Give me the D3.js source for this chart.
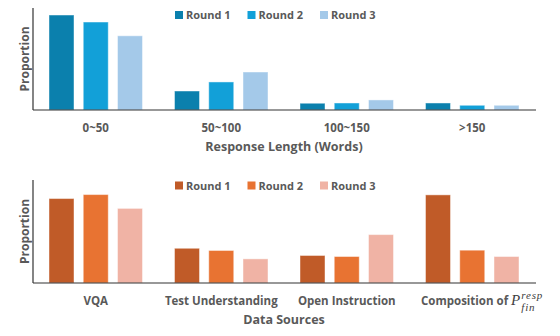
<!DOCTYPE html>
<html>
<head>
<meta charset="utf-8">
<script src="https://cdn.jsdelivr.net/npm/d3@7"></script>
<style>
  body { margin: 0; background: #fff; }
  text { font-family: "Open Sans", "Noto Sans", sans-serif; font-weight: 700; fill: #595959; }
</style>
</head>
<body>
<div id="container"></div>
<script>
/* CONSTANTS AND GLOBALS */
const width = 560;
const height = 336;

const rounds = ["Round 1", "Round 2", "Round 3"];

// top panel: response length
const lengthCats = ["0~50", "50~100", "100~150", ">150"];
const lengthRound1 = [0.745, 0.149, 0.053, 0.055];
const lengthRound2 = [0.690, 0.220, 0.055, 0.037];
const lengthRound3 = [0.582, 0.298, 0.079, 0.037];
const blueColors = ["#0b80ad", "#12a0d8", "#a4c9e9"];

// bottom panel: data sources
const sourceCats = ["VQA", "Test Understanding", "Open Instruction", "Composition"];
const sourceRound1 = [0.574, 0.236, 0.187, 0.599];
const sourceRound2 = [0.601, 0.221, 0.180, 0.223];
const sourceRound3 = [0.507, 0.164, 0.329, 0.180];
const orangeColors = ["#c05b28", "#e87332", "#f0b3a5"];

const svg = d3.select("#container")
  .append("svg")
  .attr("width", width)
  .attr("height", height);

function drawPanel(opt) {
  const series = [opt.r1, opt.r2, opt.r3];

  const xScale = d3.scaleBand()
    .domain(opt.cats)
    .range([33, 535]);

  const xInner = d3.scaleBand()
    .domain(rounds)
    .range([16, xScale.bandwidth() - 16])
    .paddingInner(0.27);

  const yScale = d3.scaleLinear()
    .domain([0, opt.ymax])
    .range([opt.bottom, opt.top]);

  const colorScale = d3.scaleOrdinal(rounds, opt.colors);

  const g = svg.append("g");

  const rows = [];
  opt.cats.forEach((c, i) => {
    rounds.forEach((r, j) => rows.push({ cat: c, round: r, value: series[j][i] }));
  });

  // bars
  g.selectAll("rect.bar")
    .data(rows)
    .join("rect")
    .attr("class", "bar")
    .attr("x", d => xScale(d.cat) + xInner(d.round))
    .attr("width", xInner.bandwidth())
    .attr("y", d => yScale(d.value))
    .attr("height", d => yScale(0) - yScale(d.value))
    .attr("fill", d => colorScale(d.round))
    .attr("stroke", "#fff")
    .attr("stroke-opacity", 0.45)
    .attr("stroke-width", 1);

  // axes
  g.append("line")
    .attr("x1", 33).attr("x2", 33)
    .attr("y1", opt.top).attr("y2", opt.bottom)
    .attr("stroke", "#333").attr("stroke-width", 1.2);
  g.append("line")
    .attr("x1", 33).attr("x2", 536)
    .attr("y1", opt.bottom).attr("y2", opt.bottom)
    .attr("stroke", "#333").attr("stroke-width", 1.2);

  // tick labels
  g.selectAll("text.tick")
    .data(opt.cats)
    .join("text")
    .attr("class", "tick")
    .attr("x", d => xScale(d) + xScale.bandwidth() / 2)
    .attr("y", opt.bottom + 22)
    .attr("text-anchor", "middle")
    .style("font-size", "11.5px")
    .text(d => d === "Composition" ? "" : d);

  // math label for the composition category
  if (opt.mathLabel) {
    const mathFont = "'Liberation Serif', 'DejaVu Serif', serif";
    const lbl = g.append("text")
      .attr("x", 421)
      .attr("y", opt.bottom + 22)
      .style("font-size", "11.5px")
      .text("Composition of");
    const w1 = lbl.node().getComputedTextLength();
    const px = 421 + w1 + 3;
    const p = g.append("text")
      .attr("x", px)
      .attr("y", opt.bottom + 22)
      .style("font-family", mathFont)
      .style("font-style", "italic")
      .style("font-weight", "400")
      .style("font-size", "15px")
      .style("fill", "#404040")
      .text("P");
    const sx = px + p.node().getComputedTextLength() + 1;
    g.append("text")
      .attr("x", sx)
      .attr("y", opt.bottom + 16)
      .style("font-family", mathFont)
      .style("font-style", "italic")
      .style("font-weight", "400")
      .style("font-size", "11px")
      .style("letter-spacing", "0.8px")
      .style("fill", "#404040")
      .text("resp");
    g.append("text")
      .attr("x", sx)
      .attr("y", opt.bottom + 28)
      .style("font-family", mathFont)
      .style("font-style", "italic")
      .style("font-weight", "400")
      .style("font-size", "11px")
      .style("letter-spacing", "0.8px")
      .style("fill", "#404040")
      .text("fin");
  }

  // axis title
  g.append("text")
    .attr("x", 284)
    .attr("y", opt.bottom + 41)
    .attr("text-anchor", "middle")
    .style("font-size", "12.5px")
    .text(opt.xTitle);

  g.append("text")
    .attr("transform", `translate(29,${(opt.top + opt.bottom) / 2}) rotate(-90)`)
    .attr("text-anchor", "middle")
    .style("font-size", "12px")
    .text("Proportion");

  // legend
  const legend = g.selectAll("g.legend")
    .data(rounds)
    .join("g")
    .attr("class", "legend")
    .attr("transform", (d, i) => `translate(${175 + i * 72.5},${opt.legendY})`);
  legend.append("rect")
    .attr("x", 0).attr("y", -4)
    .attr("width", 8).attr("height", 8)
    .attr("fill", d => colorScale(d));
  legend.append("text")
    .attr("x", 11)
    .attr("y", 4)
    .style("font-size", "11px")
    .text(d => d);
}

drawPanel({
  cats: lengthCats, r1: lengthRound1, r2: lengthRound2, r3: lengthRound3,
  colors: blueColors, top: 8, bottom: 110, ymax: 0.8,
  xTitle: "Response Length (Words)", legendY: 15, mathLabel: false
});

drawPanel({
  cats: sourceCats, r1: sourceRound1, r2: sourceRound2, r3: sourceRound3,
  colors: orangeColors, top: 180, bottom: 283, ymax: 0.7,
  xTitle: "Data Sources", legendY: 185.5, mathLabel: true
});
</script>
</body>
</html>
